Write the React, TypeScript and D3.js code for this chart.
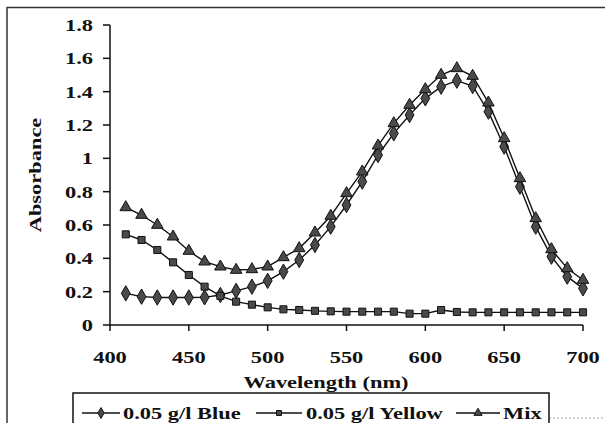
import React from 'react';
import {scaleLinear, line, symbol, symbolDiamond, symbolSquare, symbolTriangle} from 'd3';

// wavelength (nm) of every measured point
const wavelengths = [410, 420, 430, 440, 450, 460, 470, 480, 490, 500, 510, 520, 530, 540, 550,
  560, 570, 580, 590, 600, 610, 620, 630, 640, 650, 660, 670, 680, 690, 700];

const blue = [0.19, 0.17, 0.165, 0.165, 0.165, 0.166, 0.18, 0.205, 0.23, 0.265, 0.32, 0.39, 0.48, 0.59, 0.72,
  0.86, 1.02, 1.15, 1.26, 1.36, 1.43, 1.466, 1.434, 1.28, 1.07, 0.83, 0.59, 0.41, 0.29, 0.22];
const yellow = [0.544, 0.51, 0.45, 0.376, 0.3, 0.23, 0.175, 0.14, 0.122, 0.106, 0.094, 0.09, 0.085, 0.082, 0.08,
  0.08, 0.08, 0.08, 0.068, 0.068, 0.09, 0.078, 0.076, 0.076, 0.076, 0.076, 0.076, 0.076, 0.076, 0.076];
const mix = [0.706, 0.66, 0.6, 0.53, 0.444, 0.38, 0.35, 0.33, 0.334, 0.35, 0.406, 0.46, 0.554, 0.654, 0.79,
  0.92, 1.076, 1.21, 1.32, 1.414, 1.5, 1.54, 1.494, 1.334, 1.12, 0.88, 0.64, 0.454, 0.34, 0.27];

const xTicks = [400, 450, 500, 550, 600, 650, 700];
const yTicks = [0, 0.2, 0.4, 0.6, 0.8, 1, 1.2, 1.4, 1.6, 1.8];

const seriesNames = ['0.05 g/l Blue', '0.05 g/l Yellow', 'Mix'];

const font = '"Liberation Serif", "Times New Roman", serif';
const fs = 17;
const sx = 1.32; // the scanned lettering is wide

const T = ({x, y, anchor = 'start', rotate = 0, children}: any) => (
  <text transform={`translate(${x},${y}) rotate(${rotate}) scale(${sx},1)`} textAnchor={anchor}
    fontFamily={font} fontWeight="bold" fontSize={fs} fill="#111">{children}</text>
);

const App = () => {
  const left = 110, right = 583, top = 25, bottom = 325;

  const x = scaleLinear().domain([400, 700]).range([left, right]);
  const y = scaleLinear().domain([0, 1.8]).range([bottom, top]);

  const series = [
    {name: seriesNames[0], values: blue, shape: symbolDiamond, size: 68},
    {name: seriesNames[1], values: yellow, shape: symbolSquare, size: 50},
    {name: seriesNames[2], values: mix, shape: symbolTriangle, size: 58},
  ];

  const path = line<number>().x((d, i) => x(wavelengths[i])).y(d => y(d));

  const legendPos = [
    {l0: 82, l1: 120, tx: 123},
    {l0: 256, l1: 302, tx: 306},
    {l0: 456, l1: 500, tx: 503},
  ];

  return (
    <svg width={605} height={423} style={{position: 'absolute', left: 0, top: 0, background: '#fff'}}>
      {/* outer frame */}
      <line x1={7} x2={7} y1={7} y2={423} stroke="#333" strokeWidth={1.5}/>
      <line x1={7} x2={605} y1={7.5} y2={7.5} stroke="#333" strokeWidth={1.5}/>
      <line x1={549} x2={605} y1={418} y2={418} stroke="#aaa" strokeWidth={1} strokeDasharray="2,2"/>

      {/* axes */}
      <line x1={left} x2={left} y1={top} y2={bottom} stroke="#111" strokeWidth={1.5}/>
      <line x1={left} x2={right} y1={bottom} y2={bottom} stroke="#111" strokeWidth={1.5}/>
      {yTicks.map(t => (
        <g key={t}>
          <line x1={left - 7} x2={left} y1={y(t)} y2={y(t)} stroke="#111" strokeWidth={1.5}/>
          <T x={93} y={y(t) + 6} anchor="end">{String(t)}</T>
        </g>
      ))}
      {xTicks.map(t => (
        <g key={t}>
          <line x1={x(t)} x2={x(t)} y1={bottom} y2={bottom + 6} stroke="#111" strokeWidth={1.5}/>
          <T x={x(t)} y={363} anchor="middle">{String(t)}</T>
        </g>
      ))}
      <T x={326} y={388} anchor="middle">Wavelength (nm)</T>
      <T x={41} y={175} anchor="middle" rotate={-90}>Absorbance</T>

      {/* series */}
      {series.map(s => (
        <g key={s.name}>
          <path d={path(s.values) || ''} fill="none" stroke="#111" strokeWidth={1.4}/>
          {s.values.map((v, i) => (
            <path key={i} d={symbol(s.shape, s.size)() || ''}
              transform={`translate(${x(wavelengths[i])},${y(v)})`}
              fill="#4a4a4a" stroke="#111" strokeWidth={1}/>
          ))}
        </g>
      ))}

      {/* legend */}
      <rect x={73} y={393} width={476} height={40} fill="#fff" stroke="#111" strokeWidth={1.5}/>
      {series.map((s, i) => {
        const p = legendPos[i];
        return (
          <g key={s.name}>
            <line x1={p.l0} x2={p.l1} y1={413} y2={413} stroke="#111" strokeWidth={1.3}/>
            <path d={symbol(s.shape, s.size * 0.5)() || ''}
              transform={`translate(${(p.l0 + p.l1) / 2},413)`} fill="#4a4a4a" stroke="#111" strokeWidth={1}/>
            <T x={p.tx} y={419}>{s.name}</T>
          </g>
        );
      })}
    </svg>
  );
};

export default App;
